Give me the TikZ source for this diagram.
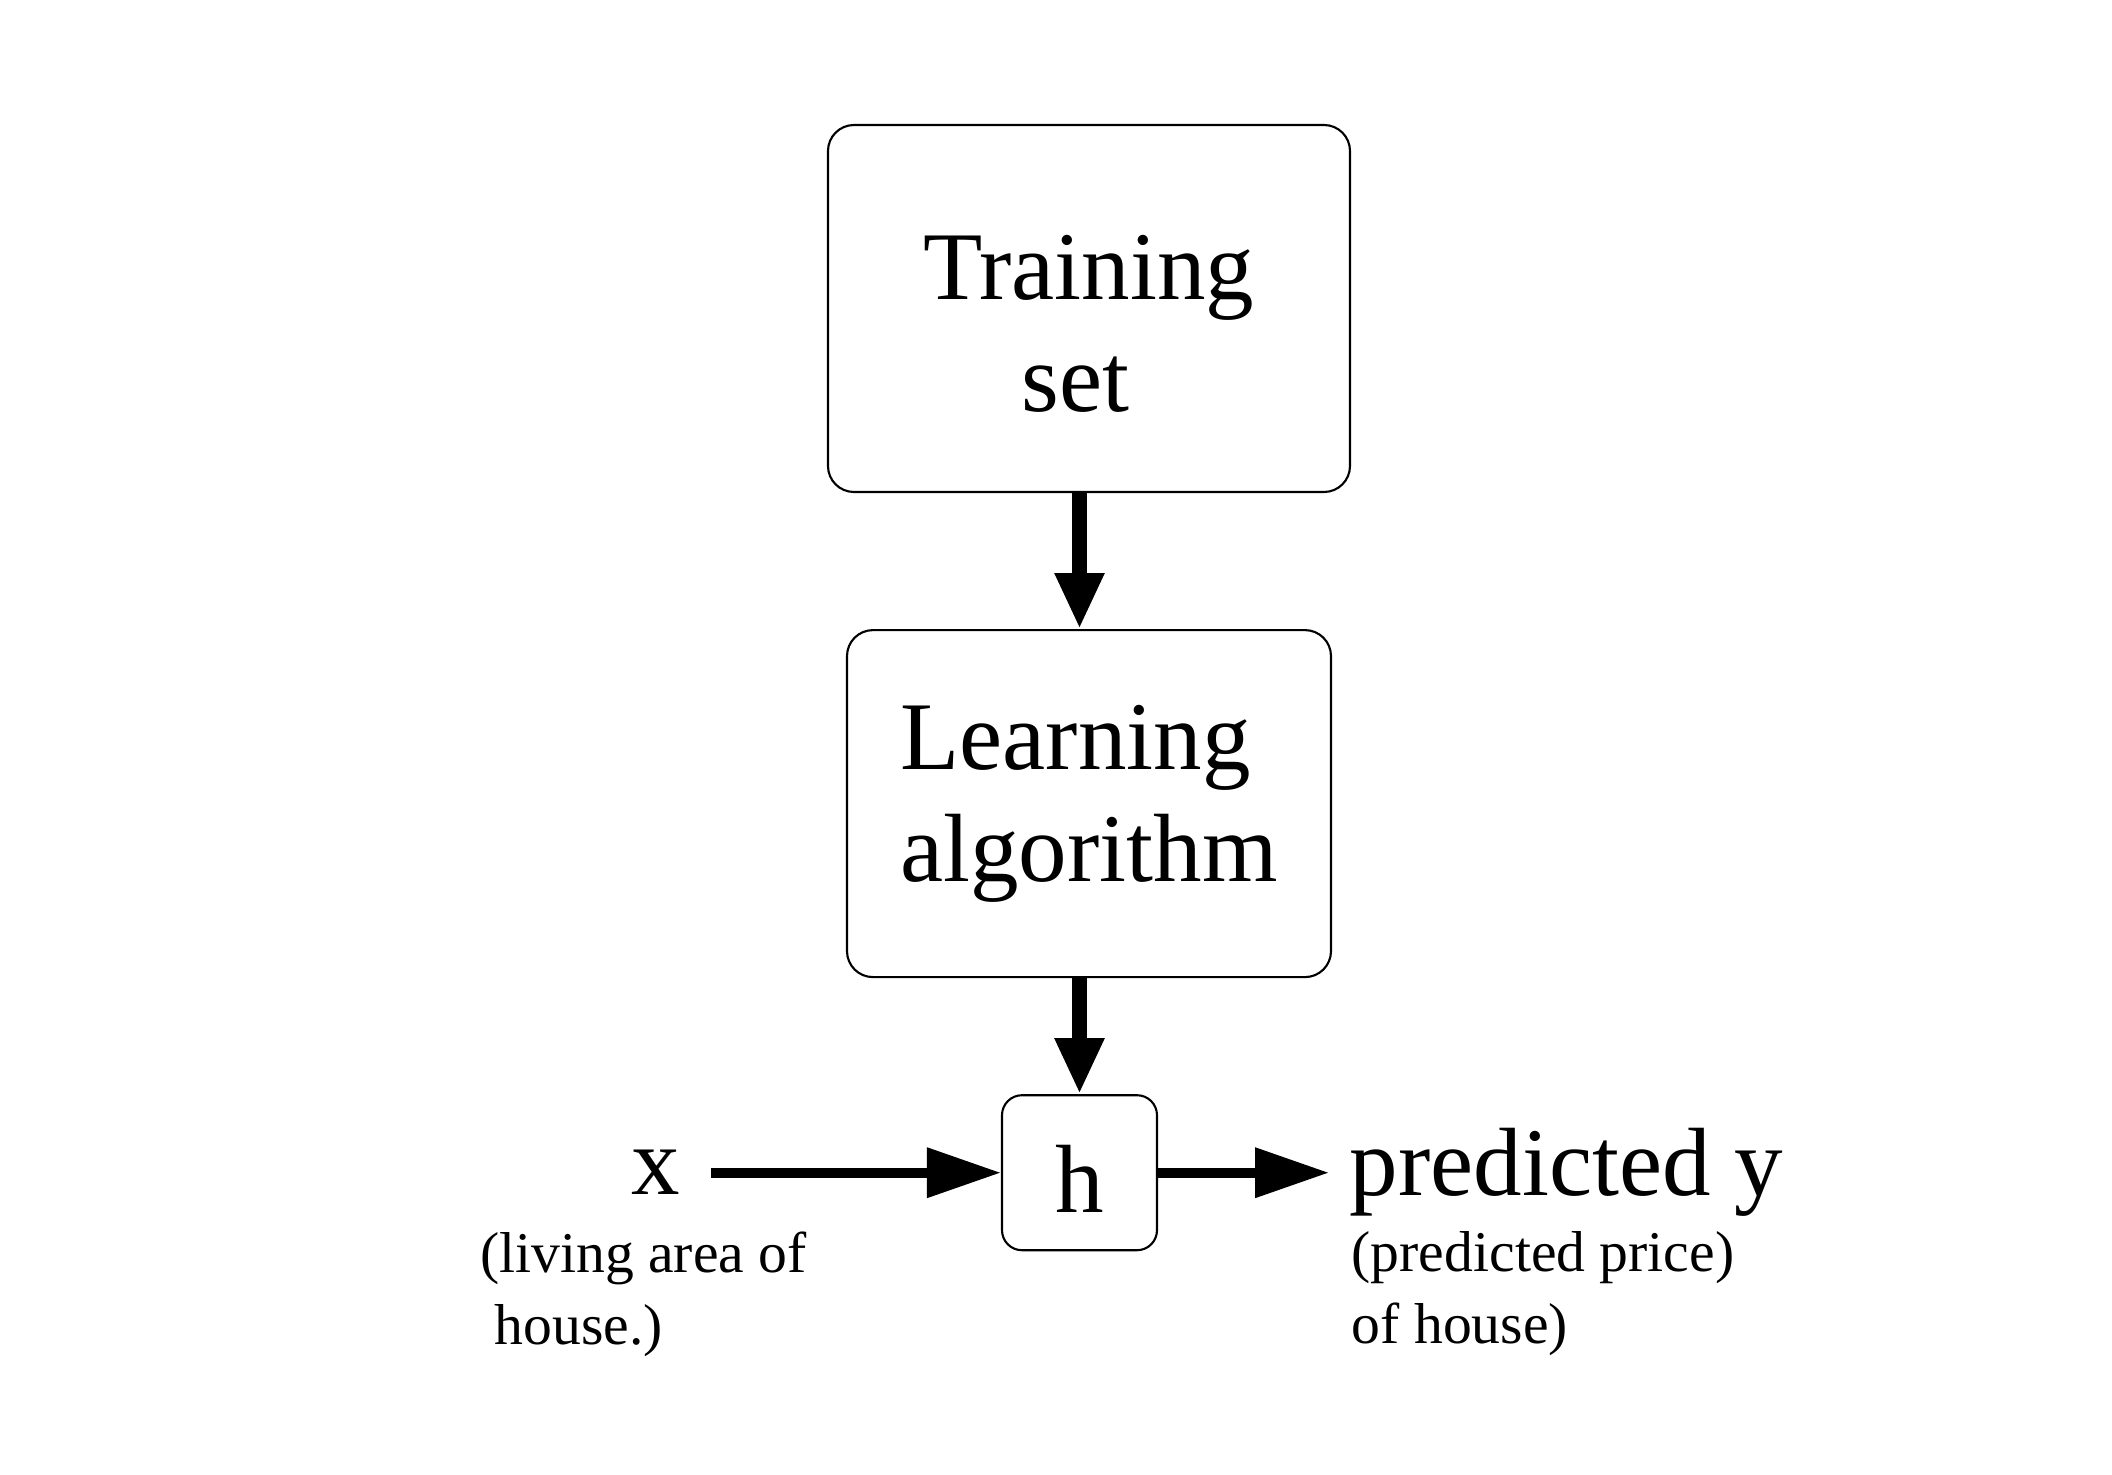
\documentclass[tikz,border=0pt]{standalone}
\usepackage{fontspec}
\setmainfont{Liberation Serif}
\usetikzlibrary{positioning,arrows.meta}
\tikzset{
  block/.style={draw, rounded corners=2.6mm, line width=0.6pt, inner sep=0pt,
    font=\fontsize{27.6}{31.9}\selectfont},
  flow/.style={line width=4pt, -{Triangle[length=5.6mm,width=4.6mm]}},
  feed/.style={line width=2.85pt, -{Triangle[length=7.4mm,width=4.8mm]}},
  word/.style={inner sep=0pt, font=\fontsize{27.6}{31.9}\selectfont},
  note/.style={inner sep=0pt, align=left, font=\fontsize{16.4}{20.5}\selectfont}
}
\begin{document}
\begin{tikzpicture}
    \useasboundingbox (0,0) rectangle (21.12,14.74);
    \node[block, align=center, minimum width=5.22cm, minimum height=3.67cm,
          text height=2.08cm, text depth=0.01cm] (train) at (10.89,11.655) {Training\\set\rule{0.28em}{0pt}};
    \node[block, align=left, minimum width=4.84cm, minimum height=3.47cm] (learn) [below=1.36cm of train] {Learning\\algorithm};
    \node[block, rounded corners=2mm, minimum size=1.55cm,
          text height=0.79cm, text depth=0cm] (h) [below=1.16cm of learn, xshift=-0.95mm] {h};
    \node[word] (x) [left=3.2cm of h] {x};
    \node[word] (pred) [right=1.91cm of h] {predicted y};
    \node[note] (xnote) [below right=0.355cm and -1.515cm of x.south west] {(living area of\\\ house.)};
    \node[note] (prednote) [below right=0.13cm and 0.02cm of pred.south west] {(predicted price)\\of house)};
    \draw[flow] (train.south -| h) -- (learn.north -| h);
    \draw[flow] (learn.south -| h) -- (h.north);
    \draw[feed, shorten <=3mm] (x) -- (h);
    \draw[feed, shorten >=2mm] (h) -- (pred);
\end{tikzpicture}
\end{document}
